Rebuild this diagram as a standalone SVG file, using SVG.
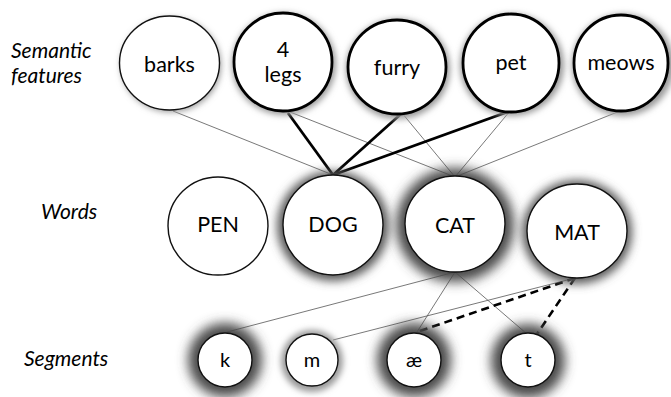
<svg xmlns="http://www.w3.org/2000/svg" width="671" height="397" viewBox="0 0 671 397">
<style>
.lbl{font-family:Lato,"Liberation Sans",sans-serif;font-style:italic;font-size:21px;fill:#000}
.t{font-family:Lato,"Liberation Sans",sans-serif;font-size:21.5px;fill:#000;text-anchor:middle}
.ts{font-family:Lato,"Liberation Sans",sans-serif;font-size:20px;fill:#000;text-anchor:middle}
.n{fill:#fff;stroke:#111;stroke-width:1.4}
.nb{fill:#fff;stroke:#000;stroke-width:2.8}
.thin{stroke:#555;stroke-width:0.8;fill:none}
.thick{stroke:#000;stroke-width:2.8;fill:none}
.dash{stroke:#000;stroke-width:2.6;fill:none;stroke-dasharray:8 5}
.gh{fill:#4a4a4a;filter:url(#fh)}
.gm{fill:#5a5a5a;filter:url(#fm)}
.gl{fill:#999;filter:url(#fl)}
</style>
<defs>
<filter id="fh" x="-50%" y="-50%" width="200%" height="200%"><feGaussianBlur stdDeviation="6"/></filter>
<filter id="fm" x="-50%" y="-50%" width="200%" height="200%"><feGaussianBlur stdDeviation="5"/></filter>
<filter id="fl" x="-50%" y="-50%" width="200%" height="200%"><feGaussianBlur stdDeviation="3"/></filter>
</defs>
<rect width="671" height="397" fill="#fff"/>
<g id="row-labels">
<text class="lbl" x="11" y="58">Semantic</text>
<text class="lbl" x="11" y="83">features</text>
<text class="lbl" x="41" y="219">Words</text>
<text class="lbl" x="24" y="366">Segments</text>
</g>
<g id="connectors">
<line class="thin" x1="173" y1="111" x2="333" y2="175"/>
<line class="thin" x1="290" y1="112" x2="455" y2="177"/>
<line class="thin" x1="402" y1="113" x2="455" y2="177"/>
<line class="thin" x1="510" y1="111" x2="455" y2="177"/>
<line class="thin" x1="620" y1="111" x2="455" y2="177"/>
<line class="thick" x1="288" y1="113" x2="333" y2="175"/>
<line class="thick" x1="402" y1="113" x2="333" y2="175"/>
<line class="thick" x1="510" y1="111" x2="333" y2="175"/>
<line class="thin" x1="455" y1="272" x2="227" y2="332"/>
<line class="thin" x1="455" y1="272" x2="417" y2="332"/>
<line class="thin" x1="455" y1="272" x2="527" y2="334"/>
<line class="thin" x1="575" y1="278" x2="333" y2="340"/>
<line class="dash" x1="575" y1="278" x2="417" y2="332"/>
<line class="dash" x1="575" y1="278" x2="537" y2="334"/>
</g>
<g id="node-barks"><ellipse class="gl" cx="171" cy="65" rx="50" ry="47"/><ellipse class="n" cx="169.5" cy="63" rx="50" ry="47"/><text class="t" x="169.5" y="72">barks</text></g>
<g id="node-4legs"><ellipse class="gl" cx="284" cy="64" rx="52" ry="51"/><ellipse class="nb" cx="283" cy="62" rx="49" ry="49"/><text class="t" x="283" y="57">4</text><text class="t" x="283" y="82">legs</text></g>
<g id="node-furry"><ellipse class="gl" cx="398" cy="69" rx="52" ry="50"/><ellipse class="nb" cx="397" cy="67" rx="49" ry="47"/><text class="t" x="397" y="75">furry</text></g>
<g id="node-pet"><ellipse class="gl" cx="512" cy="65" rx="52" ry="51"/><ellipse class="nb" cx="511" cy="63" rx="48" ry="49"/><text class="t" x="511" y="70">pet</text></g>
<g id="node-meows"><ellipse class="gl" cx="623" cy="65" rx="51" ry="51"/><ellipse class="nb" cx="621" cy="63" rx="47" ry="48"/><text class="t" x="621" y="70">meows</text></g>
<g id="node-PEN"><ellipse class="n" cx="218" cy="226" rx="50" ry="49"/><text class="t" x="218" y="232">PEN</text></g>
<g id="node-DOG"><ellipse class="gm" cx="333" cy="226" rx="56" ry="55"/><ellipse class="n" cx="333" cy="225" rx="50" ry="50"/><text class="t" x="333" y="232">DOG</text></g>
<g id="node-CAT"><ellipse class="gh" cx="455" cy="225" rx="59" ry="57"/><ellipse class="n" cx="455" cy="224" rx="50" ry="48"/><text class="t" x="455" y="233">CAT</text></g>
<g id="node-MAT"><ellipse class="gm" cx="577" cy="232" rx="55" ry="52"/><ellipse class="n" cx="577" cy="231" rx="50" ry="47"/><text class="t" x="577" y="240">MAT</text></g>
<g id="node-k"><circle class="gh" cx="225" cy="360" r="37"/><circle class="n" cx="225" cy="360" r="27"/><text class="ts" x="225" y="367">k</text></g>
<g id="node-m"><circle class="gl" cx="312" cy="361" r="31"/><circle class="n" cx="312" cy="360" r="26"/><text class="ts" x="312" y="367">m</text></g>
<g id="node-ae"><circle class="gh" cx="414" cy="360" r="37"/><circle class="n" cx="414" cy="360" r="27"/><text class="ts" x="414" y="367">æ</text></g>
<g id="node-t"><circle class="gh" cx="528" cy="361" r="37"/><circle class="n" cx="528" cy="360" r="27"/><text class="ts" x="528" y="367">t</text></g>
</svg>
